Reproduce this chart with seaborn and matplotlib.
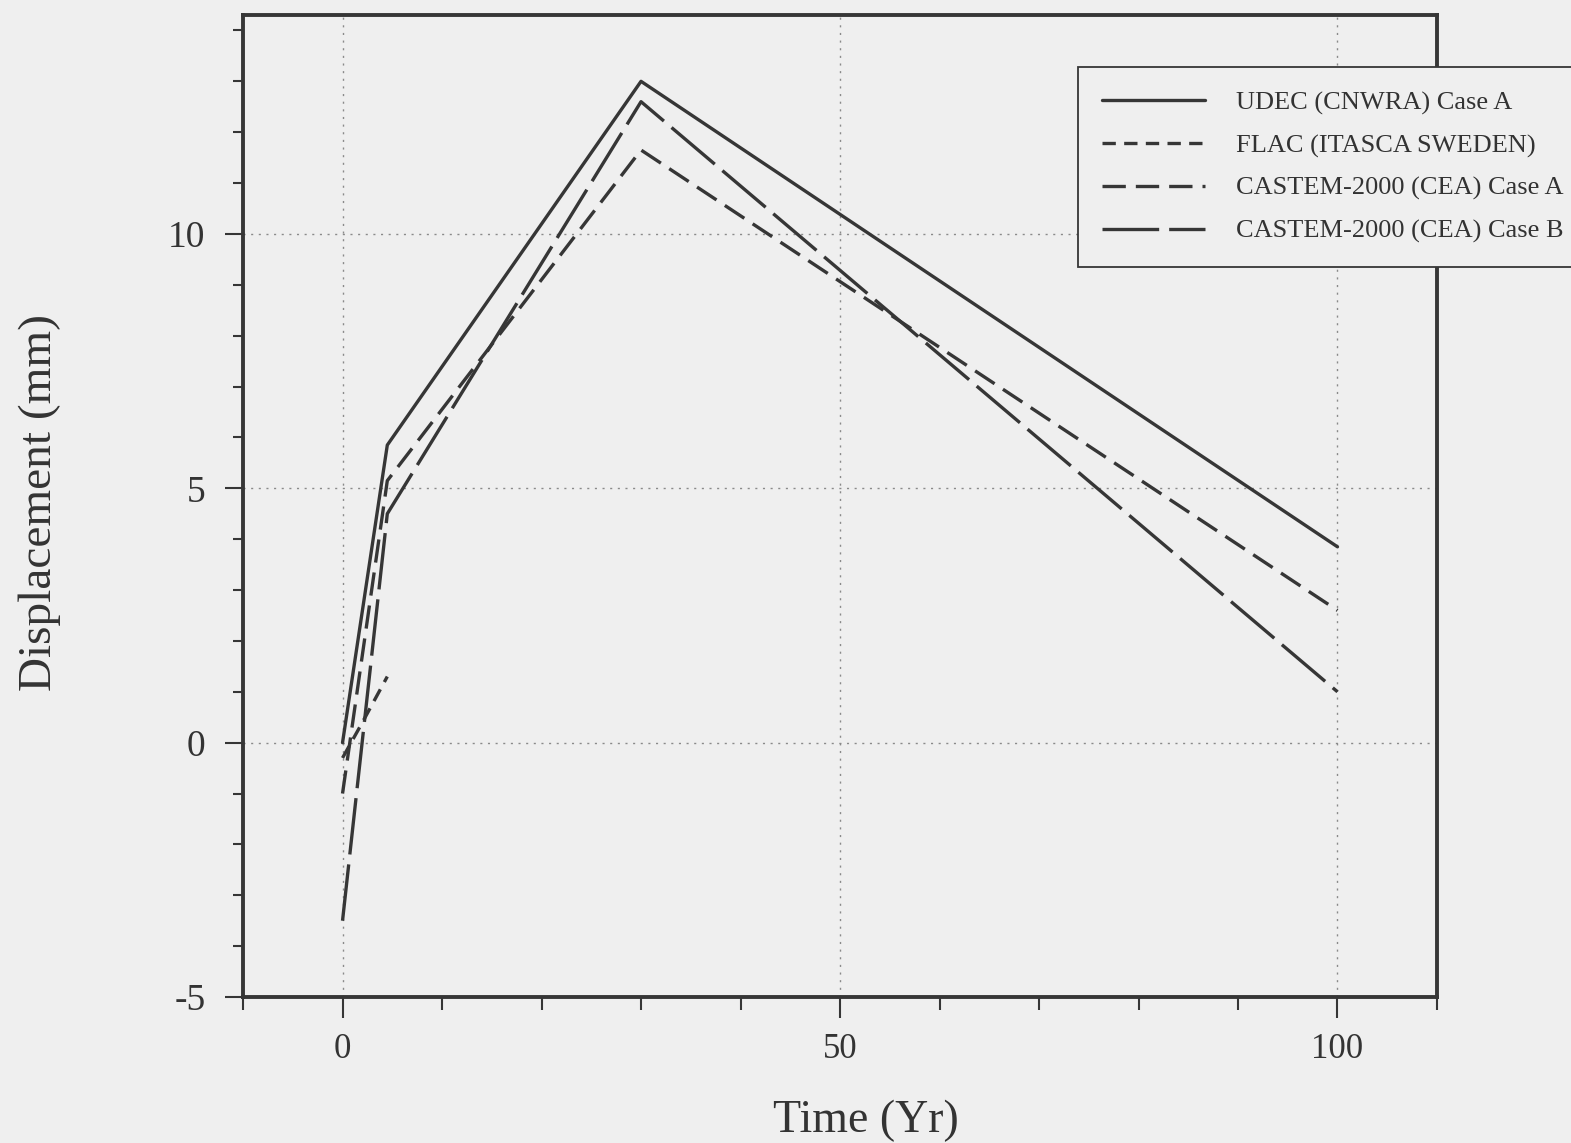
import matplotlib
matplotlib.use("Agg")
import matplotlib.pyplot as plt
import seaborn as sns
import numpy as np
import pandas as pd
from matplotlib.ticker import MultipleLocator, FixedLocator, FuncFormatter

# ---- data ----
udec_t = [0, 4.5, 30, 100]
udec_d = [0.0, 5.85, 13.0, 3.85]

flac_t = [0, 2, 4.5]
flac_d = [-0.3, 0.4, 1.3]

castA_t = [0, 4.5, 30, 100]
castA_d = [-1.0, 5.15, 11.65, 2.6]

castB_t = [0, 4.5, 30, 100]
castB_d = [-3.5, 4.5, 12.6, 1.0]

labels = ["UDEC (CNWRA) Case A", "FLAC (ITASCA SWEDEN)",
          "CASTEM-2000 (CEA) Case A", "CASTEM-2000 (CEA) Case B"]
x_major = [0, 50, 100]
y_major = [-5, 0, 5, 10]

sns.set_theme(style="white")
plt.rcParams['font.family'] = ['Liberation Serif', 'DejaVu Serif']
plt.rcParams['axes.unicode_minus'] = False

bg = "#efefef"
ink = "#363636"
fig = plt.figure(figsize=(15.71, 11.43), dpi=100, facecolor=bg)
ax = fig.add_axes([0.1547, 0.1277, 0.76, 0.859])
ax.set_facecolor(bg)

series = [
    (udec_t, udec_d, labels[0], "-"),
    (flac_t, flac_d, labels[1], (0, (4, 2.5))),
    (castA_t, castA_d, labels[2], (0, (7, 3))),
    (castB_t, castB_d, labels[3], (0, (17, 3))),
]
for t, d, lab, ls in series:
    df = pd.DataFrame({"t": t, "d": d})
    sns.lineplot(data=df, x="t", y="d", ax=ax, color=ink, linewidth=2.4,
                 linestyle=ls, label=lab, legend=False)

ax.set_xlim(-10, 110)
ax.set_ylim(-5, 14.3)

ax.xaxis.set_major_locator(FixedLocator(x_major))
ax.xaxis.set_minor_locator(MultipleLocator(10))
ax.yaxis.set_major_locator(FixedLocator(y_major))
ax.yaxis.set_minor_locator(MultipleLocator(1))
ax.yaxis.set_major_formatter(FuncFormatter(lambda v, p: f"{int(v)}"))

ax.tick_params(axis="both", which="both", direction="out", color=ink,
               labelcolor="#333333", labelsize=25, bottom=True, left=True,
               top=False, right=False)
ax.tick_params(axis="x", which="major", length=15, width=1.5, pad=11)
ax.tick_params(axis="x", which="minor", length=9, width=1.5)
ax.tick_params(axis="y", which="major", length=13, width=1.5, pad=14)
ax.tick_params(axis="y", which="minor", length=7, width=1.5)
for lbl in ax.get_yticklabels():
    lbl.set_fontsize(27)

for s in ax.spines.values():
    s.set_color(ink)
    s.set_linewidth(2.8)
    s.set_visible(True)

# dotted grid at major positions (excluding the -5 bottom)
for xv in x_major:
    ax.axvline(xv, color="#8a8a8a", lw=1.0, ls=(0, (1.5, 4)), zorder=0)
for yv in [0, 5, 10]:
    ax.axhline(yv, color="#8a8a8a", lw=1.0, ls=(0, (1.5, 4)), zorder=0)

ax.set_xlabel("Time (Yr)", fontsize=33, color="#333333")
ax.set_ylabel("Displacement (mm)", fontsize=34, color="#333333")
ax.xaxis.set_label_coords((866 - 243) / 1194, -(1121 - 997) / 982, transform=ax.transAxes)
ax.xaxis.label.set_va("center")
ax.yaxis.set_label_coords((40 - 243) / 1194, (997 - 502) / 982, transform=ax.transAxes)
ax.yaxis.label.set_va("center")

leg = ax.legend(loc="upper left", bbox_to_anchor=(1078 / 1571, 1 - 67 / 1143),
                bbox_transform=fig.transFigure, fontsize=19, frameon=True,
                fancybox=False, edgecolor=ink, facecolor=bg, framealpha=1,
                handlelength=3.9, handletextpad=1.2, labelspacing=0.72,
                borderpad=0.9, borderaxespad=0)
leg.get_frame().set_linewidth(1.3)
for txt in leg.get_texts():
    txt.set_color("#333333")
leg.set_clip_on(False)

fig.savefig("out.png", dpi=100, facecolor=bg)
